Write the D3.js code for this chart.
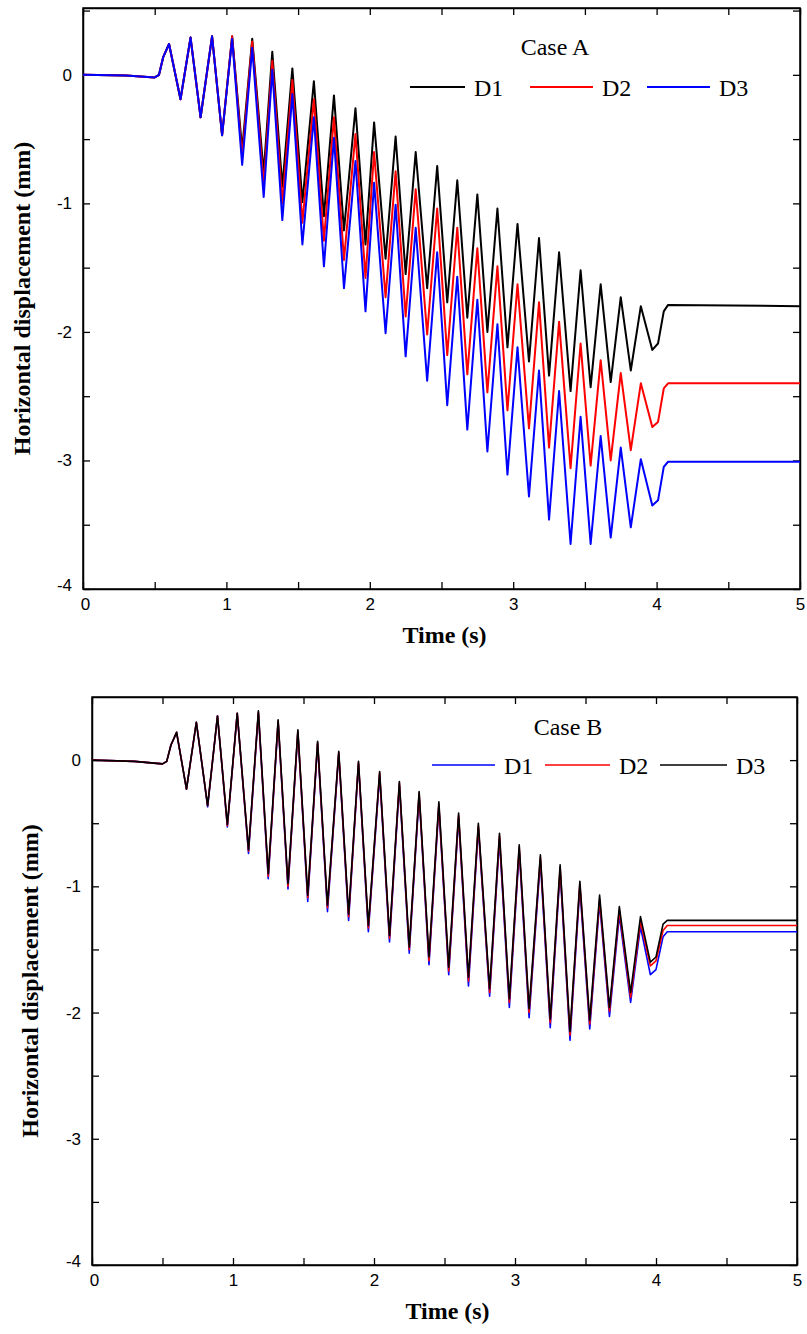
<!DOCTYPE html>
<html><head><meta charset="utf-8">
<script src="https://cdn.jsdelivr.net/npm/d3@7"></script>
<style>body{margin:0;background:#fff}</style>
</head><body>
<svg id="c" width="807" height="1334"></svg>
<script>
// ---- Case A data ----
const peakTimesA = [0.60,0.75,0.90,1.04,1.18,1.32,1.46,1.61,1.75,1.90,2.03,2.18,2.32,2.47,2.61,2.75,2.89,3.03,3.18,3.32,3.47,3.61,3.75,3.89];
const troughTimesA = [0.68,0.82,0.97,1.11,1.26,1.39,1.53,1.68,1.82,1.97,2.11,2.25,2.40,2.54,2.68,2.82,2.96,3.11,3.25,3.40,3.54,3.68,3.82,3.97];
const headA = [[0,0],[0.3,-0.005],[0.5,-0.02],[0.53,0.0],[0.56,0.14]];
const a1Peaks = [0.24,0.29,0.30,0.30,0.28,0.18,0.05,-0.05,-0.16,-0.26,-0.37,-0.48,-0.60,-0.71,-0.82,-0.93,-1.04,-1.16,-1.27,-1.38,-1.52,-1.63,-1.73,-1.80];
const a1Troughs = [-0.19,-0.33,-0.47,-0.58,-0.76,-0.87,-0.99,-1.10,-1.21,-1.32,-1.43,-1.55,-1.66,-1.77,-1.89,-2.00,-2.12,-2.23,-2.34,-2.46,-2.43,-2.39,-2.30,-2.14];
const a1Tail = [[4.01,-2.09],[4.05,-1.84],[4.08,-1.79],[5,-1.80]];
const a2Peaks = [0.24,0.29,0.30,0.30,0.26,0.11,-0.04,-0.19,-0.33,-0.46,-0.60,-0.75,-0.89,-1.04,-1.19,-1.35,-1.49,-1.63,-1.77,-1.92,-2.09,-2.22,-2.32,-2.40];
const a2Troughs = [-0.19,-0.33,-0.47,-0.64,-0.86,-1.00,-1.15,-1.29,-1.44,-1.58,-1.73,-1.88,-2.02,-2.18,-2.33,-2.47,-2.61,-2.75,-2.90,-3.06,-3.04,-3.00,-2.92,-2.74];
const a2Tail = [[4.01,-2.70],[4.05,-2.44],[4.08,-2.40],[5,-2.40]];
const a3Peaks = [0.24,0.29,0.30,0.28,0.21,0.04,-0.15,-0.33,-0.49,-0.67,-0.84,-1.01,-1.19,-1.38,-1.57,-1.75,-1.94,-2.12,-2.30,-2.46,-2.66,-2.81,-2.90,-2.99];
const a3Troughs = [-0.19,-0.33,-0.47,-0.70,-0.95,-1.13,-1.32,-1.49,-1.66,-1.84,-2.01,-2.19,-2.38,-2.57,-2.76,-2.93,-3.11,-3.28,-3.46,-3.65,-3.65,-3.60,-3.52,-3.35];
const a3Tail = [[4.01,-3.31],[4.05,-3.05],[4.08,-3.01],[5,-3.01]];

// ---- Case B data ----
const peakTimesB = [0.60,0.74,0.89,1.03,1.18,1.32,1.46,1.60,1.75,1.89,2.04,2.18,2.32,2.46,2.60,2.74,2.89,3.03,3.18,3.32,3.46,3.60,3.74,3.89];
const troughTimesB = [0.67,0.82,0.96,1.11,1.25,1.39,1.53,1.67,1.82,1.96,2.11,2.25,2.39,2.53,2.67,2.82,2.96,3.10,3.25,3.39,3.53,3.67,3.82,3.96];
const headB = [[0,0],[0.3,-0.01],[0.5,-0.03],[0.53,-0.01],[0.56,0.12]];
const b1Peaks = [0.22,0.30,0.35,0.37,0.37,0.30,0.22,0.13,0.05,-0.03,-0.12,-0.20,-0.28,-0.37,-0.46,-0.54,-0.63,-0.72,-0.80,-0.88,-1.01,-1.13,-1.23,-1.32];
const b1Troughs = [-0.23,-0.37,-0.53,-0.74,-0.94,-1.02,-1.12,-1.20,-1.27,-1.36,-1.44,-1.53,-1.62,-1.70,-1.79,-1.87,-1.96,-2.04,-2.12,-2.22,-2.13,-2.03,-1.92,-1.70];
const b1Tail = [[4.0,-1.66],[4.05,-1.40],[4.08,-1.36],[5,-1.36]];
const b2Peaks = [0.22,0.30,0.35,0.37,0.38,0.31,0.23,0.14,0.06,-0.02,-0.10,-0.18,-0.26,-0.35,-0.44,-0.52,-0.60,-0.69,-0.77,-0.85,-0.98,-1.10,-1.19,-1.28];
const b2Troughs = [-0.23,-0.36,-0.52,-0.72,-0.92,-1.00,-1.09,-1.17,-1.24,-1.33,-1.41,-1.50,-1.59,-1.67,-1.75,-1.84,-1.92,-2.00,-2.08,-2.18,-2.09,-1.99,-1.88,-1.63];
const b2Tail = [[4.0,-1.59],[4.05,-1.35],[4.08,-1.31],[5,-1.31]];
const b3Peaks = [0.22,0.30,0.35,0.37,0.39,0.32,0.24,0.15,0.07,-0.01,-0.09,-0.17,-0.25,-0.33,-0.42,-0.50,-0.58,-0.67,-0.75,-0.83,-0.96,-1.07,-1.16,-1.24];
const b3Troughs = [-0.23,-0.36,-0.51,-0.71,-0.90,-0.98,-1.07,-1.15,-1.22,-1.31,-1.39,-1.48,-1.56,-1.64,-1.72,-1.81,-1.89,-1.97,-2.05,-2.15,-2.06,-1.96,-1.84,-1.60];
const b3Tail = [[4.0,-1.56],[4.05,-1.30],[4.08,-1.27],[5,-1.27]];

function build(head, pt, pv, tt, tv, tail) {
  const pts = head.slice();
  for (let i = 0; i < pt.length; i++) { pts.push([pt[i], pv[i]]); pts.push([tt[i], tv[i]]); }
  return pts.concat(tail);
}

const svg = d3.select("#c");
const serif = "Liberation Serif, Times New Roman, serif";
const sans = "Liberation Sans, Arial, sans-serif";

function panel(o) {
  const x = d3.scaleLinear().domain([0, 5]).range([o.left, o.right]);
  const y = d3.scaleLinear().domain([-4, o.ymax]).range([o.bottom, o.top]);
  const g = svg.append("g");
  const tl = 7;
  const xt = d3.range(0, 5.01, 0.5), yt = d3.range(-4, o.ymax, 0.5);
  const xb = g.append("g").attr("transform", `translate(0,${o.bottom})`)
    .call(d3.axisBottom(x).tickValues(xt).tickSizeInner(-tl).tickSizeOuter(0).tickPadding(9).tickFormat(d => Number.isInteger(d) ? d : ""));
  xb.selectAll(".tick text").filter(d => d === 0).attr("dx", 2);
  g.append("g").attr("transform", `translate(0,${o.top})`)
    .call(d3.axisTop(x).tickValues(xt).tickSizeInner(-tl).tickSizeOuter(0).tickFormat(""));
  const yl = g.append("g").attr("transform", `translate(${o.left},0)`)
    .call(d3.axisLeft(y).tickValues(yt).tickSizeInner(-tl).tickSizeOuter(0).tickPadding(11).tickFormat(d => Number.isInteger(d) ? d : ""));
  yl.selectAll(".tick text").filter(d => d === -4).attr("dy", "0.1em");
  g.append("g").attr("transform", `translate(${o.right},0)`)
    .call(d3.axisRight(y).tickValues(yt).tickSizeInner(-tl).tickSizeOuter(0).tickFormat(""));
  g.selectAll(".domain").attr("stroke-width", 1.5);
  g.selectAll(".tick line").attr("stroke-width", 1.3);
  g.selectAll(".tick text").attr("font-family", sans).attr("font-size", 17).attr("fill", "#000");
  g.append("rect").attr("x", o.left).attr("y", o.top).attr("width", o.right - o.left).attr("height", o.bottom - o.top)
    .attr("fill", "none").attr("stroke", "#000").attr("stroke-width", 1.5);

  const clip = "clip" + o.id;
  svg.append("clipPath").attr("id", clip).append("rect")
    .attr("x", o.left).attr("y", o.top).attr("width", o.right - o.left).attr("height", o.bottom - o.top);
  const line = d3.line().x(d => x(d[0])).y(d => y(d[1])).curve(d3.curveLinear);
  o.series.forEach(s => {
    g.append("path").datum(s.data).attr("d", line).attr("fill", "none")
      .attr("stroke", s.color).attr("stroke-width", o.lw).attr("stroke-linejoin", "round").attr("clip-path", `url(#${clip})`);
  });

  g.append("text").attr("x", o.caseX).attr("y", o.caseY).attr("text-anchor", "middle")
    .attr("font-family", serif).attr("font-size", 24).text(o.title);
  o.series.forEach((s, i) => {
    const lx = o.legX[i];
    g.append("line").attr("x1", lx[0]).attr("x2", lx[1]).attr("y1", o.legY).attr("y2", o.legY)
      .attr("stroke", s.color).attr("stroke-width", o.lw);
    g.append("text").attr("x", lx[1] + 9).attr("y", o.legY + 9).attr("font-family", serif).attr("font-size", 24).text(s.name);
  });
  g.append("text").attr("x", (o.left + o.right) / 2 + 3).attr("y", o.bottom + 54).attr("text-anchor", "middle")
    .attr("font-family", serif).attr("font-weight", "bold").attr("font-size", 24).text("Time (s)");
  g.append("text").attr("transform", `translate(${o.ytX},${(o.top + o.bottom) / 2}) rotate(-90)`).attr("text-anchor", "middle")
    .attr("font-family", serif).attr("font-weight", "bold").attr("font-size", 24).text("Horizontal displacement (mm)");
}

panel({id: "A", left: 83, right: 800, top: 8, bottom: 589, ymax: 0.52, lw: 2, title: "Case A", caseX: 555, caseY: 55,
  legY: 87, legX: [[410, 465], [530, 593], [647, 710]], ytX: 30,
  series: [
    {name: "D1", color: "#000", data: build(headA, peakTimesA, a1Peaks, troughTimesA, a1Troughs, a1Tail)},
    {name: "D2", color: "#ff0000", data: build(headA, peakTimesA, a2Peaks, troughTimesA, a2Troughs, a2Tail)},
    {name: "D3", color: "#0000ff", data: build(headA, peakTimesA, a3Peaks, troughTimesA, a3Troughs, a3Tail)}
  ]});

panel({id: "B", left: 92, right: 797, top: 697, bottom: 1265, ymax: 0.5, lw: 1.6, title: "Case B", caseX: 568, caseY: 735,
  legY: 765, legX: [[432, 495], [545, 610], [660, 727]], ytX: 38,
  series: [
    {name: "D1", color: "#0000ff", data: build(headB, peakTimesB, b1Peaks, troughTimesB, b1Troughs, b1Tail)},
    {name: "D2", color: "#ff0000", data: build(headB, peakTimesB, b2Peaks, troughTimesB, b2Troughs, b2Tail)},
    {name: "D3", color: "#000", data: build(headB, peakTimesB, b3Peaks, troughTimesB, b3Troughs, b3Tail)}
  ]});
</script>
</body></html>
